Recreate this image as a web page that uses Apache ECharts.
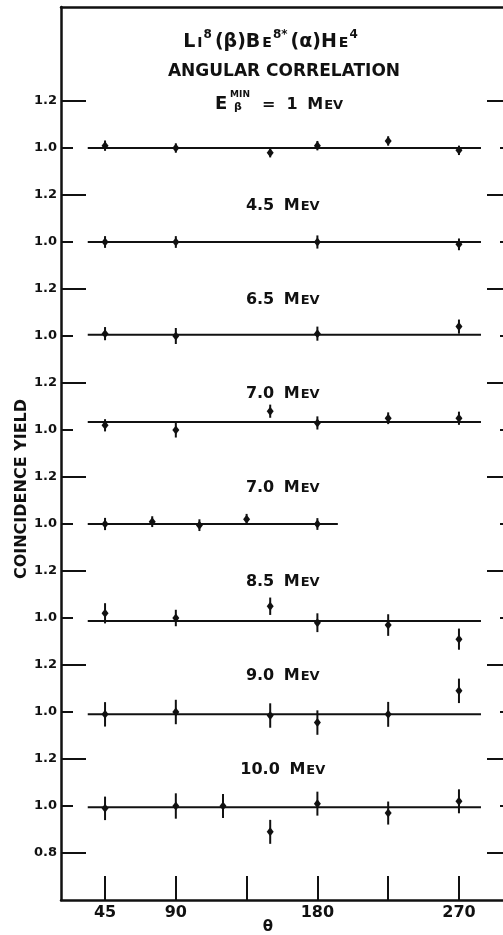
<!DOCTYPE html>
<html>
<head>
<meta charset="utf-8">
<script src="https://cdn.jsdelivr.net/npm/echarts@6/dist/echarts.min.js"></script>
<style>
  html, body { margin: 0; padding: 0; background: #ffffff; }
  #chart { width: 503px; height: 935px; }
</style>
</head>
<body>
<div id="chart"></div>
<script>
// ---------------- data ----------------
const energyLabels = ['1', '4.5', '6.5', '7.0', '7.0', '8.5', '9.0', '10.0'];
const panelOffsets = [2.8, 2.4, 2.0, 1.6, 1.2, 0.8, 0.4, 0.0];

const angles1 = [45, 90, 150, 180, 225, 270];
const yield1  = [1.01, 1.00, 0.98, 1.01, 1.03, 0.99];
const err1    = [0.022, 0.02, 0.02, 0.02, 0.02, 0.02];

const angles2 = [45, 90, 180, 270];
const yield2  = [1.00, 1.00, 1.00, 0.99];
const err2    = [0.025, 0.025, 0.028, 0.025];

const angles3 = [45, 90, 180, 270];
const yield3  = [1.01, 1.00, 1.01, 1.04];
const err3    = [0.028, 0.034, 0.03, 0.03];

const angles4 = [45, 90, 150, 180, 225, 270];
const yield4  = [1.02, 1.00, 1.08, 1.03, 1.05, 1.05];
const err4    = [0.026, 0.032, 0.028, 0.028, 0.025, 0.028];

const angles5 = [45, 75, 105, 135, 180];
const yield5  = [1.00, 1.01, 0.995, 1.02, 1.00];
const err5    = [0.026, 0.023, 0.025, 0.023, 0.025];

const angles6 = [45, 90, 150, 180, 225, 270];
const yield6  = [1.02, 1.00, 1.05, 0.98, 0.97, 0.91];
const err6    = [0.043, 0.035, 0.037, 0.04, 0.046, 0.045];

const angles7 = [45, 90, 150, 180, 225, 270];
const yield7  = [0.99, 1.00, 0.985, 0.955, 0.99, 1.09];
const err7    = [0.052, 0.052, 0.052, 0.052, 0.053, 0.052];

const angles8 = [45, 90, 120, 150, 180, 225, 270];
const yield8  = [0.99, 1.00, 1.00, 0.89, 1.01, 0.97, 1.02];
const err8    = [0.05, 0.054, 0.051, 0.051, 0.051, 0.049, 0.051];

// fitted (flat) lines per panel: level and angular extent
const fitLevels = [1.0, 1.0, 1.005, 1.034, 1.0, 0.987, 0.99, 0.995];
const fitStart  = [34, 34, 34, 34, 34, 34, 34, 34];
const fitEnd    = [284, 284, 284, 284, 193, 284, 284, 284];

// axis ticks / labels
const xTickValues  = [45, 90, 135, 180, 225, 270];
const xLabelValues = [45, 90, 180, 270];
const yTickValues  = [0.8, 1.0, 1.2, 1.4, 1.6, 1.8, 2.0, 2.2, 2.4, 2.6, 2.8, 3.0, 3.2, 3.4, 3.6, 3.8, 4.0];
const yTickLabels  = ['0.8', '1.0', '1.2', '1.0', '1.2', '1.0', '1.2', '1.0', '1.2',
                      '1.0', '1.2', '1.0', '1.2', '1.0', '1.2', '1.0', '1.2'];

// ---------------- build ----------------
const panels = [
  [angles1, yield1, err1], [angles2, yield2, err2], [angles3, yield3, err3], [angles4, yield4, err4],
  [angles5, yield5, err5], [angles6, yield6, err6], [angles7, yield7, err7], [angles8, yield8, err8]
];

const INK = '#111111';
const FONT = 'DejaVu Sans';

const pointData = [];
const errData = [];
panels.forEach((p, i) => {
  const off = panelOffsets[i];
  p[0].forEach((a, j) => {
    const y = off + p[1][j];
    pointData.push([a, y]);
    errData.push([a, y - p[2][j], y + p[2][j]]);
  });
});

const shortTicks = yTickValues.filter((v, i) => yTickLabels[i] === '1.0');
const longTicks  = yTickValues.filter((v, i) => yTickLabels[i] !== '1.0');

function yLabel(v) {
  for (let i = 0; i < yTickValues.length; i++) {
    if (Math.abs(yTickValues[i] - v) < 1e-6) return yTickLabels[i];
  }
  return '';
}

const series = [];
fitLevels.forEach((lv, i) => {
  series.push({
    type: 'line', xAxisIndex: 0, yAxisIndex: 0, symbol: 'none', silent: true,
    data: [[fitStart[i], panelOffsets[i] + lv], [fitEnd[i], panelOffsets[i] + lv]],
    lineStyle: { color: INK, width: 2 }, z: 2
  });
});

series.push({
  type: 'custom', xAxisIndex: 0, yAxisIndex: 0, silent: true, z: 3,
  data: errData,
  encode: { x: 0, y: [1, 2] },
  renderItem: function (params, api) {
    const x = api.value(0);
    const lo = api.coord([x, api.value(1)]);
    const hi = api.coord([x, api.value(2)]);
    return {
      type: 'line',
      shape: { x1: lo[0], y1: lo[1], x2: hi[0], y2: hi[1] },
      style: { stroke: INK, lineWidth: 2 }
    };
  }
});

series.push({
  type: 'scatter', xAxisIndex: 0, yAxisIndex: 0, silent: true, z: 4,
  symbol: 'diamond', symbolSize: [7, 9],
  itemStyle: { color: INK, opacity: 1 },
  data: pointData
});

// panel energy labels (panels 2..8; panel 1 is part of the title block)
const labelData = [];
for (let i = 1; i < energyLabels.length; i++) {
  labelData.push([158, panelOffsets[i] + 1.157, energyLabels[i]]);
}
series.push({
  type: 'scatter', xAxisIndex: 0, yAxisIndex: 0, silent: true, z: 5,
  symbolSize: 1, itemStyle: { color: 'rgba(0,0,0,0)', opacity: 1 },
  data: labelData,
  label: {
    show: true, position: 'inside', opacity: 1,
    formatter: p => '{n|' + p.data[2] + ' }{m|M}{s|EV}',
    rich: {
      n: { fontFamily: FONT, fontSize: 16, fontWeight: 'bold', color: INK, verticalAlign: 'bottom', lineHeight: 18 },
      m: { fontFamily: FONT, fontSize: 16, fontWeight: 'bold', color: INK, verticalAlign: 'bottom', lineHeight: 18, padding: [0, 0, 0, 4] },
      s: { fontFamily: FONT, fontSize: 13, fontWeight: 'bold', color: INK, verticalAlign: 'bottom', lineHeight: 15, padding: [0, 0, 1, 1] }
    }
  }
});

const chart = echarts.init(document.getElementById('chart'), null, { renderer: 'canvas' });

const yAxisBase = {
  type: 'value', min: 0.6, max: 4.4, splitLine: { show: false }, gridIndex: 0
};

chart.setOption({
  animation: false,
  backgroundColor: '#ffffff',
  grid: { left: 61, right: 0, top: 7, bottom: 35, containLabel: false, outerBoundsMode: 'none' },
  xAxis: [
    {
      type: 'value', min: 17, max: 298, position: 'bottom',
      axisLine: { show: true, lineStyle: { color: INK, width: 2.5 } },
      axisTick: { show: true, inside: true, length: 24, customValues: xTickValues, lineStyle: { color: INK, width: 2 } },
      axisLabel: { show: true, customValues: xLabelValues, margin: 5, color: INK, fontFamily: FONT, fontSize: 16, fontWeight: 'bold' },
      splitLine: { show: false },
      name: 'θ', nameLocation: 'middle', nameGap: 20, nameMoveOverlap: false,
      nameTextStyle: { color: INK, fontFamily: FONT, fontSize: 15, fontWeight: 'bold', padding: [0, 28, 0, 0] }
    },
    {
      type: 'value', min: 17, max: 298, position: 'top',
      axisLine: { show: true, lineStyle: { color: INK, width: 2.5 } },
      axisTick: { show: false }, axisLabel: { show: false }, splitLine: { show: false }
    }
  ],
  yAxis: [
    Object.assign({}, yAxisBase, {
      position: 'left',
      axisLine: { show: true, lineStyle: { color: INK, width: 2.5 } },
      axisTick: { show: true, inside: true, length: 12, customValues: shortTicks, lineStyle: { color: INK, width: 2 } },
      axisLabel: { show: true, customValues: yTickValues, formatter: yLabel, margin: 4, color: INK, fontFamily: FONT, fontSize: 13, fontWeight: 'bold' },
      name: 'COINCIDENCE YIELD', nameLocation: 'middle', nameGap: 31, nameRotate: 90, nameMoveOverlap: false,
      nameTextStyle: { color: INK, fontFamily: FONT, fontSize: 16, fontWeight: 'bold', padding: [0, 71, 0, 0] }
    }),
    Object.assign({}, yAxisBase, {
      position: 'left',
      axisLine: { show: false },
      axisTick: { show: true, inside: true, length: 25, customValues: longTicks, lineStyle: { color: INK, width: 2 } },
      axisLabel: { show: false }
    }),
    Object.assign({}, yAxisBase, {
      position: 'right', offset: 9,
      axisLine: { show: true, lineStyle: { color: INK, width: 2.5 } },
      axisTick: { show: true, inside: true, length: 25, customValues: longTicks, lineStyle: { color: INK, width: 2 } },
      axisLabel: { show: false }
    }),
    Object.assign({}, yAxisBase, {
      position: 'right', offset: 9,
      axisLine: { show: false },
      axisTick: { show: true, inside: true, length: 12, customValues: shortTicks, lineStyle: { color: INK, width: 2 } },
      axisLabel: { show: false }
    })
  ],
  graphic: [
    {
      type: 'text', x: 271, y: 40, silent: true,
      style: {
        text: '{n|L}{s|I}{sup|8}{n|(β)B}{s|E}{sup|8*}{n|(α)H}{s|E}{sup|4}',
        align: 'center', verticalAlign: 'middle',
        rich: {
          n:   { fontFamily: FONT, fontSize: 19, fontWeight: 'bold', fill: INK, verticalAlign: 'bottom', lineHeight: 23, padding: [0, 1, 0, 1] },
          s:   { fontFamily: FONT, fontSize: 14, fontWeight: 'bold', fill: INK, verticalAlign: 'bottom', lineHeight: 17, padding: [0, 0, 1, 1] },
          sup: { fontFamily: FONT, fontSize: 12, fontWeight: 'bold', fill: INK, verticalAlign: 'top', lineHeight: 13, padding: [0, 2, 0, 1] }
        }
      }
    },
    {
      type: 'text', x: 284, y: 72, silent: true,
      style: {
        text: 'ANGULAR CORRELATION', align: 'center', verticalAlign: 'middle',
        fontFamily: FONT, fontSize: 17, fontWeight: 'bold', fill: INK
      }
    },
    {
      type: 'text', x: 215, y: 104, silent: true,
      style: { text: 'E', align: 'left', verticalAlign: 'middle', fontFamily: FONT, fontSize: 18, fontWeight: 'bold', fill: INK }
    },
    {
      type: 'text', x: 240, y: 95, silent: true,
      style: { text: 'MIN', align: 'center', verticalAlign: 'middle', fontFamily: FONT, fontSize: 9, fontWeight: 'bold', fill: INK }
    },
    {
      type: 'text', x: 238, y: 107, silent: true,
      style: { text: 'β', align: 'center', verticalAlign: 'middle', fontFamily: FONT, fontSize: 11, fontWeight: 'bold', fill: INK }
    },
    {
      type: 'text', x: 262, y: 104, silent: true,
      style: {
        text: '{n|=  ' + energyLabels[0] + ' }{m|M}{s|EV}', align: 'left', verticalAlign: 'middle',
        rich: {
          n: { fontFamily: FONT, fontSize: 16, fontWeight: 'bold', fill: INK, verticalAlign: 'bottom', lineHeight: 18 },
          m: { fontFamily: FONT, fontSize: 16, fontWeight: 'bold', fill: INK, verticalAlign: 'bottom', lineHeight: 18, padding: [0, 0, 0, 4] },
          s: { fontFamily: FONT, fontSize: 13, fontWeight: 'bold', fill: INK, verticalAlign: 'bottom', lineHeight: 15, padding: [0, 0, 1, 1] }
        }
      }
    }
  ],
  series: series
});
</script>
</body>
</html>
